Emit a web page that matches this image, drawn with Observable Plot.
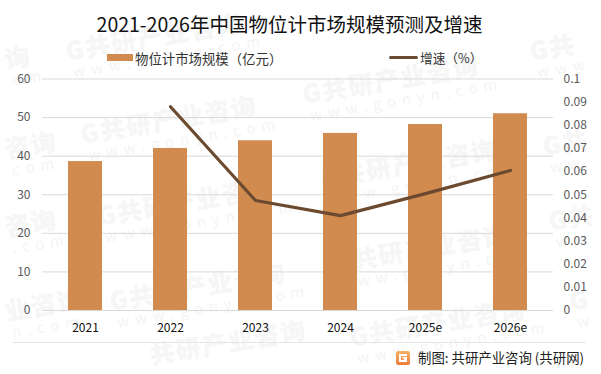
<!DOCTYPE html>
<html><head><meta charset="utf-8">
<script src="https://cdn.jsdelivr.net/npm/d3@7"></script>
<script src="https://cdn.jsdelivr.net/npm/@observablehq/plot@0.6"></script>
<style>
html,body{margin:0;padding:0;background:#fff;overflow:hidden}
#root{position:relative;width:601px;height:374px;font-family:"Noto Sans CJK SC","Noto Sans",sans-serif;overflow:hidden}
#root>svg{position:absolute;left:0;top:0;background:transparent}
.t{position:absolute;white-space:nowrap}
.wm{position:absolute;transform:rotate(-9.5deg);transform-origin:left top;color:#f6f6f6;font-weight:900;white-space:nowrap;font-size:25px;line-height:28px;letter-spacing:1.5px}
.wm small{display:block;font-size:15px;font-weight:400;letter-spacing:6px;line-height:18px;margin-left:4px;color:#f4f4f4}
</style></head><body><div id="root"></div>
<script>
const categories=["2021","2022","2023","2024","2025e","2026e"];
const marketSize=[38.6,42,44,45.9,48.2,51];
const growth=[null,0.088,0.0475,0.041,0.0505,0.0605];
const leftTicks=[0,10,20,30,40,50,60];
const rightTicks=[0,0.01,0.02,0.03,0.04,0.05,0.06,0.07,0.08,0.09,0.1];
const rows=categories.map((c,i)=>({c,v:marketSize[i],g:growth[i]}));
const full="G共研产业咨询", site="www.gonyn.com";
const watermarks=[
  [63,36,full,site],[78,119,full,site],[95,201,full,site],[107,286,full,site],[147,340,"共研产业咨询",""],
  [300,79,full,site],[318,163,full,site],[330,248,full,site],[347,322,full,site],
  [527,36,"G共","www"],[540,131,"G共","ww"],[546,206,"G共","ww"],[567,286,"G","w"],
  [2,44,"询","om"],[2,134,"咨询","com"],[2,212,"咨询",".com"],[2,296,"业咨询","n.com"]
];
const root=document.getElementById("root");
for(const [x,y,head,foot] of watermarks){
  const w=document.createElement("div");w.className="wm";w.style.left=x+"px";w.style.top=y+"px";
  w.innerHTML=head+(foot?"<small>"+foot+"</small>":"");root.appendChild(w);
}
const k=600;
const chart=Plot.plot({
  width:601,height:374,marginLeft:42,marginRight:48,marginTop:78.5,marginBottom:64,
  style:{background:"transparent",fontFamily:'"Noto Sans CJK SC","Noto Sans",sans-serif'},
  x:{domain:categories,paddingInner:0.6,paddingOuter:0.3,align:0.5,label:null},
  y:{domain:[0,60],label:null},
  marks:[
    Plot.gridY(leftTicks,{stroke:"#d9d9d9",strokeOpacity:1,strokeWidth:1}),
    Plot.barY(rows,{x:"c",y:"v",fill:"#D18B4F"}),
    Plot.lineY(rows.filter(d=>d.g!=null),{x:"c",y:d=>d.g*k,stroke:"#6B4A2F",strokeWidth:3.2}),
    Plot.axisY({ticks:leftTicks,tickSize:0,tickPadding:12,fontSize:12,color:"#595959",label:null}),
    Plot.axisY({anchor:"right",ticks:rightTicks.map(d=>d*k),tickFormat:d=>String(+(d/k).toFixed(2)),tickSize:0,tickPadding:10,fontSize:12,color:"#595959",label:null}),
    Plot.axisX({tickSize:0,tickPadding:13,fontSize:12,color:"#111",label:null})
  ]
});
root.appendChild(chart);
function add(html,css){const d=document.createElement("div");d.className="t";d.style.cssText=css;d.innerHTML=html;root.appendChild(d);}
add("2021-2026年中国物位计市场规模预测及增速","left:0;width:579px;text-align:center;top:10px;font-size:19.5px;line-height:28px;color:#111");
add("","left:107px;top:54px;width:26px;height:7px;background:#D18B4F");
add("物位计市场规模（亿元）","left:135px;top:48px;font-size:13.4px;line-height:20px;color:#333");
add("","left:389px;top:56px;width:29px;height:3px;background:#6B4A2F;border-radius:2px");
add("增速（%）","left:420px;top:48px;font-size:12.7px;line-height:20px;color:#333");
add("","left:13px;top:342px;width:573px;height:1px;background:#e6e6e6");
add('<svg width="14" height="14" viewBox="0 0 14 14" style="display:block"><defs><linearGradient id="lg" x1="0" y1="0" x2="0" y2="1"><stop offset="0" stop-color="#F7B267"/><stop offset="1" stop-color="#EE7B3A"/></linearGradient></defs><rect width="14" height="14" rx="2" fill="url(#lg)"/><path d="M3 3H11V5H5V9H8V7.5H6.5V6H11V11H3Z" fill="#fff"/></svg>',"left:396px;top:351px");
add("制图: 共研产业咨询 (共研网)","left:418px;top:347px;font-size:13.4px;line-height:20px;color:#222");
</script></body></html>
